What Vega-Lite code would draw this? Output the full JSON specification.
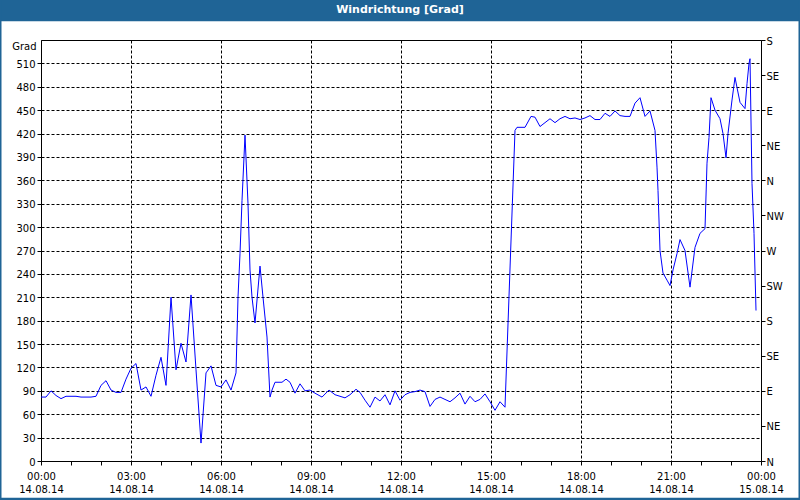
{
  "$schema": "https://vega.github.io/schema/vega-lite/v6.json",
  "width": 720,
  "height": 421,
  "autosize": {"type": "none"},
  "padding": {"left": 41, "top": 40, "right": 39, "bottom": 39},
  "background": "white",
  "config": {
    "view": {"stroke": "black", "strokeWidth": 1, "fill": "white"},
    "axis": {"domain": false, "labelFont": "DejaVu Sans", "labelFontSize": 10, "labelColor": "black", "tickColor": "black", "tickSize": 4, "gridColor": "black", "gridDash": [3, 2], "gridWidth": 1, "labelOverlap": false, "labelBound": false, "labelFlush": false}
  },
  "datasets": {
    "wind": [
      {"m": 0, "deg": 82}, {"m": 10, "deg": 82}, {"m": 20, "deg": 90}, {"m": 30, "deg": 84}, {"m": 40, "deg": 80},
      {"m": 50, "deg": 83}, {"m": 60, "deg": 83}, {"m": 70, "deg": 83}, {"m": 80, "deg": 82}, {"m": 90, "deg": 82},
      {"m": 100, "deg": 82}, {"m": 110, "deg": 83}, {"m": 120, "deg": 97}, {"m": 130, "deg": 103}, {"m": 140, "deg": 91},
      {"m": 150, "deg": 88}, {"m": 160, "deg": 88}, {"m": 170, "deg": 105}, {"m": 180, "deg": 119}, {"m": 190, "deg": 125},
      {"m": 200, "deg": 91}, {"m": 210, "deg": 95}, {"m": 220, "deg": 83}, {"m": 230, "deg": 110}, {"m": 240, "deg": 133},
      {"m": 250, "deg": 97}, {"m": 260, "deg": 210}, {"m": 270, "deg": 117}, {"m": 280, "deg": 151}, {"m": 290, "deg": 127},
      {"m": 300, "deg": 213}, {"m": 310, "deg": 117}, {"m": 320, "deg": 23}, {"m": 330, "deg": 113}, {"m": 340, "deg": 122},
      {"m": 350, "deg": 97}, {"m": 360, "deg": 95}, {"m": 370, "deg": 104}, {"m": 380, "deg": 91}, {"m": 390, "deg": 113},
      {"m": 394, "deg": 210}, {"m": 398, "deg": 266}, {"m": 402, "deg": 334}, {"m": 408, "deg": 418}, {"m": 414, "deg": 330},
      {"m": 418, "deg": 245}, {"m": 422, "deg": 210}, {"m": 428, "deg": 177}, {"m": 438, "deg": 250}, {"m": 444, "deg": 210},
      {"m": 452, "deg": 159}, {"m": 458, "deg": 82}, {"m": 462, "deg": 91}, {"m": 468, "deg": 101}, {"m": 482, "deg": 101},
      {"m": 490, "deg": 105}, {"m": 498, "deg": 101}, {"m": 508, "deg": 87}, {"m": 518, "deg": 99}, {"m": 528, "deg": 90},
      {"m": 538, "deg": 91}, {"m": 548, "deg": 87}, {"m": 562, "deg": 82}, {"m": 576, "deg": 91}, {"m": 588, "deg": 85},
      {"m": 608, "deg": 81}, {"m": 618, "deg": 85}, {"m": 630, "deg": 92}, {"m": 638, "deg": 88}, {"m": 648, "deg": 78},
      {"m": 658, "deg": 69}, {"m": 668, "deg": 82}, {"m": 678, "deg": 77}, {"m": 688, "deg": 85}, {"m": 698, "deg": 72},
      {"m": 708, "deg": 90}, {"m": 718, "deg": 78}, {"m": 728, "deg": 85}, {"m": 738, "deg": 88}, {"m": 748, "deg": 89},
      {"m": 758, "deg": 91}, {"m": 768, "deg": 89}, {"m": 778, "deg": 70}, {"m": 788, "deg": 79}, {"m": 798, "deg": 82},
      {"m": 808, "deg": 79}, {"m": 818, "deg": 76}, {"m": 828, "deg": 81}, {"m": 838, "deg": 87}, {"m": 848, "deg": 73},
      {"m": 858, "deg": 83}, {"m": 868, "deg": 76}, {"m": 878, "deg": 79}, {"m": 888, "deg": 86}, {"m": 898, "deg": 76},
      {"m": 908, "deg": 65}, {"m": 918, "deg": 76}, {"m": 928, "deg": 69}, {"m": 948, "deg": 424}, {"m": 952, "deg": 428},
      {"m": 968, "deg": 428}, {"m": 980, "deg": 442}, {"m": 988, "deg": 441}, {"m": 998, "deg": 429}, {"m": 1008, "deg": 434},
      {"m": 1018, "deg": 439}, {"m": 1028, "deg": 434}, {"m": 1038, "deg": 439}, {"m": 1048, "deg": 442}, {"m": 1058, "deg": 439},
      {"m": 1068, "deg": 440}, {"m": 1078, "deg": 438}, {"m": 1088, "deg": 440}, {"m": 1098, "deg": 443}, {"m": 1108, "deg": 438},
      {"m": 1118, "deg": 438}, {"m": 1128, "deg": 446}, {"m": 1138, "deg": 442}, {"m": 1148, "deg": 449}, {"m": 1158, "deg": 443},
      {"m": 1168, "deg": 442}, {"m": 1178, "deg": 442}, {"m": 1188, "deg": 459}, {"m": 1198, "deg": 466}, {"m": 1208, "deg": 442},
      {"m": 1218, "deg": 449}, {"m": 1228, "deg": 424}, {"m": 1232, "deg": 377}, {"m": 1234, "deg": 347}, {"m": 1238, "deg": 270},
      {"m": 1244, "deg": 241}, {"m": 1252, "deg": 232}, {"m": 1258, "deg": 225}, {"m": 1264, "deg": 245}, {"m": 1272, "deg": 266},
      {"m": 1278, "deg": 284}, {"m": 1288, "deg": 270}, {"m": 1298, "deg": 223}, {"m": 1308, "deg": 274}, {"m": 1318, "deg": 292},
      {"m": 1328, "deg": 298}, {"m": 1332, "deg": 382}, {"m": 1336, "deg": 415}, {"m": 1340, "deg": 466}, {"m": 1348, "deg": 450},
      {"m": 1358, "deg": 439}, {"m": 1364, "deg": 420}, {"m": 1370, "deg": 389}, {"m": 1374, "deg": 420}, {"m": 1382, "deg": 463},
      {"m": 1388, "deg": 492}, {"m": 1392, "deg": 479}, {"m": 1398, "deg": 460}, {"m": 1408, "deg": 452}, {"m": 1412, "deg": 484},
      {"m": 1416, "deg": 510}, {"m": 1418, "deg": 516}, {"m": 1422, "deg": 356}, {"m": 1426, "deg": 292}, {"m": 1430, "deg": 193}
    ],
    "frame": [{"label": "Windrichtung [Grad]"}]
  },
  "resolve": {"axis": {"x": "independent", "y": "independent"}},
  "layer": [
    {
      "data": {"name": "wind"},
      "mark": {"type": "line", "color": "#0000ff", "strokeWidth": 1},
      "encoding": {
        "x": {"field": "m", "type": "quantitative",
          "scale": {"domain": [0, 1440], "nice": false, "zero": false},
          "axis": {"title": null, "grid": true, "values": [0, 60, 120, 180, 240, 300, 360, 420, 480, 540, 600, 660, 720, 780, 840, 900, 960, 1020, 1080, 1140, 1200, 1260, 1320, 1380, 1440],
            "labelPadding": 6, "labelLineHeight": 13,
            "gridOpacity": {"condition": {"test": "datum.value % 180 != 0", "value": 0}, "value": 1},
            "labelExpr": "datum.value % 180 == 0 ? [(floor(datum.value / 60) % 24 < 10 ? '0' : '') + (floor(datum.value / 60) % 24) + ':00', datum.value == 1440 ? '15.08.14' : '14.08.14'] : ''"}},
        "y": {"field": "deg", "type": "quantitative",
          "scale": {"domain": [0, 540], "nice": false, "zero": false},
          "axis": {"orient": "left", "grid": true, "title": "Grad", "titleAngle": 0, "titleAlign": "right", "titleBaseline": "middle", "titleX": -5, "titleY": 6, "titleFont": "DejaVu Sans", "titleFontSize": 10, "titleFontWeight": "normal", "titleColor": "black",
            "values": [0, 30, 60, 90, 120, 150, 180, 210, 240, 270, 300, 330, 360, 390, 420, 450, 480, 510],
            "labelPadding": 2, "labelOffset": 1}}
      }
    },
    {
      "data": {"name": "frame"},
      "mark": {"type": "rect", "fill": "#1f6496", "clip": false},
      "encoding": {
        "x": {"datum": -82, "type": "quantitative", "axis": null},
        "x2": {"datum": 1518},
        "y": {"datum": 564, "type": "quantitative", "axis": null},
        "y2": {"datum": 600}
      }
    },
    {
      "data": {"name": "frame"},
      "mark": {"type": "text", "color": "white", "font": "DejaVu Sans", "fontSize": 11, "fontWeight": "bold", "align": "center", "baseline": "middle", "clip": false},
      "encoding": {
        "x": {"datum": 718, "type": "quantitative", "axis": null},
        "y": {"datum": 578, "type": "quantitative", "axis": null},
        "text": {"field": "label"}
      }
    },
    {
      "data": {"name": "frame"},
      "mark": {"type": "rect", "fill": null, "fillOpacity": 0, "stroke": "#1f6496", "strokeWidth": 3, "clip": false},
      "encoding": {
        "x": {"datum": -82, "type": "quantitative", "axis": null},
        "x2": {"datum": 1518},
        "y": {"datum": -49, "type": "quantitative",
          "axis": {"orient": "right", "title": null, "grid": false, "values": [0, 45, 90, 135, 180, 225, 270, 315, 360, 405, 450, 495, 540], "tickSize": 4, "labelPadding": 1, "labelOffset": 1,
            "labelExpr": "['N','NE','E','SE','S','SW','W','NW'][(datum.value / 45) % 8]"}},
        "y2": {"datum": 592}
      }
    }
  ]
}
